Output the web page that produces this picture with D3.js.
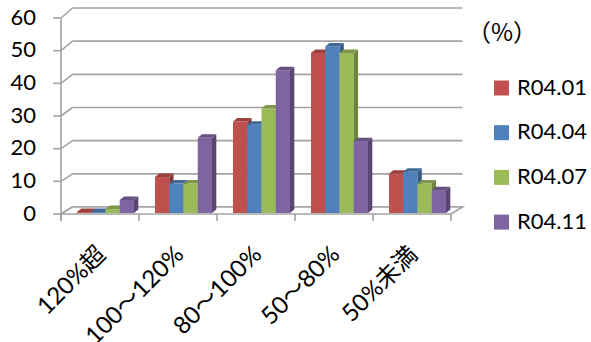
<!DOCTYPE html>
<html>
<head>
<meta charset="utf-8">
<script src="https://cdn.jsdelivr.net/npm/d3@7"></script>
<style>
  body { margin: 0; background: #fff; }
  text { font-family: Lato, 'Noto Sans CJK JP', sans-serif; fill: #000; }
</style>
</head>
<body>
<div id="chart"></div>
<script>
// categories and series
const categories = ['120%超', '100～120%', '80～100%', '50～80%', '50%未満'];
const seriesNames = ['R04.01', 'R04.04', 'R04.07', 'R04.11'];
const seriesColors = ['#c0504d', '#4f81bd', '#9bbb59', '#8064a2'];
const r0401 = [0.3, 11, 28, 49, 12];
const r0404 = [0.3, 9, 27, 51, 12.6];
const r0407 = [1.2, 9, 32, 49, 9];
const r0411 = [4, 23, 43.7, 22, 7];
const yTicks = [0, 10, 20, 30, 40, 50, 60];

const values = [r0401, r0404, r0407, r0411];

const width = 591;
const height = 342;

const svg = d3.select('#chart')
  .append('svg')
  .attr('width', width)
  .attr('height', height);

// front plane and back wall of the 3D box
const depth = { dx: 11.5, dy: -7 };
const yFront = d3.scaleLinear().domain([0, 60]).range([214, 18]);
const yBack = d3.scaleLinear().domain([0, 60]).range([207, 8]);
const yBar = d3.scaleLinear().domain([0, 60]).range([213, 17]);

const xCat = d3.scaleBand().domain(categories).range([61, 451]);
const xSeries = d3.scaleBand().domain(seriesNames).range([16, 16 + 57]);

const barDepth = { dx: 4.3, dy: -3.5 };
const gridColor = '#a3a3a3';

// back wall gridlines + diagonal connectors on the left wall
const grid = svg.append('g').attr('class', 'grid')
  .attr('stroke', gridColor).attr('stroke-width', 1.6).attr('fill', 'none');

grid.selectAll('line.back')
  .data(yTicks)
  .join('line')
  .attr('class', 'back')
  .attr('x1', 61 + depth.dx)
  .attr('x2', 451 + depth.dx)
  .attr('y1', (d) => yBack(d))
  .attr('y2', (d) => yBack(d));

grid.selectAll('line.side')
  .data(yTicks)
  .join('line')
  .attr('class', 'side')
  .attr('x1', 61)
  .attr('x2', 61 + depth.dx)
  .attr('y1', (d) => yFront(d))
  .attr('y2', (d) => yBack(d));

// floor outline
const floorPts = [
  [61, yFront(0)], [451, yFront(0)],
  [451 + depth.dx, yBack(0)], [61 + depth.dx, yBack(0)]
];
grid.append('polygon')
  .attr('points', floorPts.map((p) => p.join(',')).join(' '))
  .attr('fill', '#fff');

// bars, drawn category by category, left to right
const bars = svg.append('g').attr('class', 'bars');

categories.forEach((cat, ci) => {
  seriesNames.forEach((name, si) => {
    const v = values[si][ci];
    const x = xCat(cat) + xSeries(name);
    const w = xSeries.bandwidth();
    const y = yBar(v);
    const base = yBar(0);
    const c = d3.color(seriesColors[si]);
    const { dx, dy } = barDepth;

    const g = bars.append('g');
    g.append('rect')
      .attr('x', x).attr('y', y)
      .attr('width', w).attr('height', base - y)
      .attr('fill', c.formatHex());
    g.append('polygon')
      .attr('points', [[x + w, y], [x + w + dx, y + dy], [x + w + dx, base + dy], [x + w, base]].map((p) => p.join(',')).join(' '))
      .attr('fill', c.darker(1).formatHex());
    g.append('polygon')
      .attr('points', [[x, y], [x + dx, y + dy], [x + w + dx, y + dy], [x + w, y]].map((p) => p.join(',')).join(' '))
      .attr('fill', c.darker(0.6).formatHex());
  });
});

// front axes
const axes = svg.append('g').attr('stroke', gridColor).attr('stroke-width', 1.6);

axes.append('line')
  .attr('x1', 61).attr('x2', 61)
  .attr('y1', yFront(60)).attr('y2', yFront(0) + 7);

axes.selectAll('line.ytick')
  .data(yTicks)
  .join('line')
  .attr('class', 'ytick')
  .attr('x1', 53).attr('x2', 61)
  .attr('y1', (d) => yFront(d)).attr('y2', (d) => yFront(d));

axes.selectAll('line.xtick')
  .data(d3.range(categories.length + 1))
  .join('line')
  .attr('class', 'xtick')
  .attr('x1', (i) => 61 + i * xCat.bandwidth())
  .attr('x2', (i) => 61 + i * xCat.bandwidth())
  .attr('y1', yFront(0)).attr('y2', yFront(0) + 7);

// y labels
svg.append('g')
  .selectAll('text')
  .data(yTicks)
  .join('text')
  .attr('x', 36)
  .attr('y', (d) => yFront(d) + 1)
  .attr('text-anchor', 'end')
  .attr('dominant-baseline', 'middle')
  .style('font-size', '22px')
  .text((d) => d);

// x labels, rotated
svg.append('g')
  .selectAll('text')
  .data(categories)
  .join('text')
  .attr('transform', (d) => `translate(${xCat(d) + xCat.bandwidth() / 2 + 7}, 256) rotate(-45)`)
  .attr('text-anchor', 'end')
  .style('font-size', '24px')
  .text((d) => d);

// unit + legend
svg.append('text')
  .attr('x', 467).attr('y', 41)
  .style('font-family', "'Noto Sans CJK JP', sans-serif")
  .style('font-size', '24px')
  .text('（%）');

const legend = svg.append('g')
  .selectAll('g')
  .data(seriesNames)
  .join('g')
  .attr('transform', (d, i) => `translate(494, ${88 + i * 44.7})`);

legend.append('rect')
  .attr('x', 0).attr('y', -7.5)
  .attr('width', 15).attr('height', 15)
  .attr('fill', (d, i) => seriesColors[i]);

legend.append('text')
  .attr('x', 23).attr('y', 1)
  .attr('dominant-baseline', 'middle')
  .style('font-size', '22px')
  .text((d) => d);
</script>
</body>
</html>
